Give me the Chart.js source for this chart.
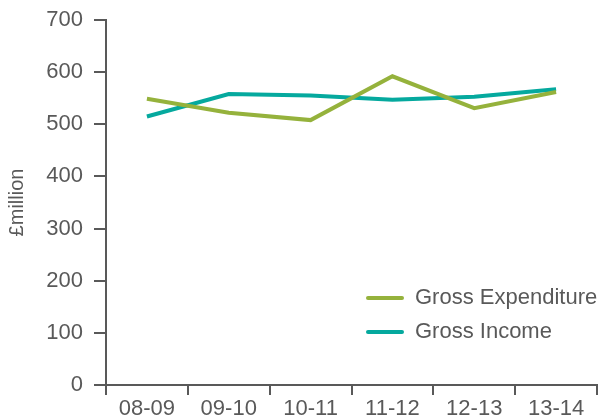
<!DOCTYPE html>
<html>
<head>
<meta charset="utf-8">
<script src="https://cdn.jsdelivr.net/npm/chart.js@4"></script>
<style>
  html, body { margin: 0; padding: 0; background: #fff; }
  #wrap { width: 599px; height: 420px; }
</style>
</head>
<body>
<div id="wrap"><canvas id="line"></canvas></div>
<script>
const years = ['08-09', '09-10', '10-11', '11-12', '12-13', '13-14'];
const grossExpenditure = [549, 522, 508, 592, 531, 562];
const grossIncome = [515, 558, 555, 547, 553, 567];
const yTicks = [0, 100, 200, 300, 400, 500, 600, 700];

const grey = '#595959';
const fontFamily = '"Liberation Sans", Arial, sans-serif';

// legend sits inside the plot, bottom right
const insideLegend = {
    id: 'insideLegend',
    afterDraw(chart) {
        const ctx = chart.ctx;
        const area = chart.chartArea;
        const x0 = area.right - 230;
        let y = area.bottom - 87;
        ctx.save();
        ctx.font = '22px ' + fontFamily;
        ctx.textBaseline = 'middle';
        ctx.lineCap = 'round';
        chart.data.datasets.forEach(ds => {
            ctx.strokeStyle = ds.borderColor;
            ctx.lineWidth = 4;
            ctx.beginPath();
            ctx.moveTo(x0 + 1, y);
            ctx.lineTo(x0 + 35, y);
            ctx.stroke();
            ctx.fillStyle = grey;
            ctx.fillText(ds.label, x0 + 48, y);
            y += 34;
        });
        ctx.restore();
    }
};

new Chart(document.getElementById('line'), {
    type: 'line',
    data: {
        labels: years,
        datasets: [{
            label: 'Gross Expenditure',
            data: grossExpenditure,
            borderColor: '#95b23c',
            borderWidth: 4,
            pointRadius: 0,
            tension: 0
        }, {
            label: 'Gross Income',
            data: grossIncome,
            borderColor: '#05a99e',
            borderWidth: 4,
            pointRadius: 0,
            tension: 0
        }]
    },
    options: {
        responsive: true,
        maintainAspectRatio: false,
        animation: false,
        layout: { padding: { top: 20, right: 2, bottom: 0, left: 0 } },
        plugins: {
            legend: { display: false },
            tooltip: { enabled: false }
        },
        scales: {
            x: {
                offset: true,
                grid: {
                    offset: true,
                    drawOnChartArea: false,
                    color: grey,
                    lineWidth: 2,
                    tickLength: 10
                },
                border: { color: grey, width: 2 },
                ticks: {
                    color: grey,
                    font: { family: fontFamily, size: 22 },
                    padding: 1,
                    maxRotation: 0
                },
                afterFit(scale) { scale.height = 35; }
            },
            y: {
                min: 0,
                max: 700,
                afterBuildTicks(scale) { scale.ticks = yTicks.map(v => ({ value: v })); },
                grid: {
                    drawOnChartArea: false,
                    color: grey,
                    lineWidth: 2,
                    tickLength: 12
                },
                border: { color: grey, width: 2 },
                ticks: {
                    color: grey,
                    font: { family: fontFamily, size: 22 },
                    padding: 11
                },
                title: {
                    display: true,
                    text: '£million',
                    color: grey,
                    font: { family: fontFamily, size: 20 },
                    padding: { top: 5, bottom: 0 }
                },
                afterFit(scale) {
                    scale.width = 106;
                    scale.paddingTop = 0;
                    scale.paddingBottom = 0;
                }
            }
        }
    },
    plugins: [insideLegend]
});
</script>
</body>
</html>
